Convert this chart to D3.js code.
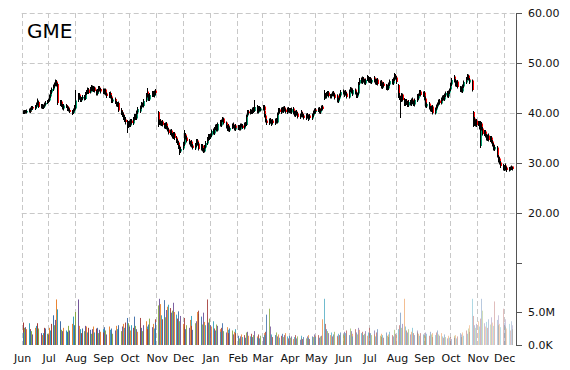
<!DOCTYPE html>
<html><head><meta charset="utf-8">
<script src="https://cdn.jsdelivr.net/npm/d3@7/dist/d3.min.js"></script>
<style>html,body{margin:0;padding:0;background:#fff;}svg{display:block;}</style>
</head><body>
<svg id="chart" width="570" height="370"></svg>
<script>
const title = "GME";
const firstTradingDay = "2014-06-02";
const monthLabels = ["Jun","Jul","Aug","Sep","Oct","Nov","Dec","Jan","Feb","Mar","Apr","May","Jun","Jul","Aug","Sep","Oct","Nov","Dec"];
const priceTicks = [60, 50, 40, 30, 20, 10];
const priceTickLabels = ["60.00","50.00","40.00","30.00","20.00",""];
const volumeTicks = [5, 0];
const volumeTickLabels = ["5.0M","0.0K"];
const barColors = ["#A33A38","#3D6CA8","#86A83F","#6E4F96","#E8822E","#2F9CB8"];

const open = [
40.0,40.3,40.0,40.4,40.1,40.3,40.7,40.3,40.7,41.2,40.8,41.2,41.7,42.2,41.7,41.1,41.6,41.0,41.3,41.7,42.0,
42.2,42.5,43.3,44.1,44.7,45.3,45.7,46.3,45.8,42.1,41.7,42.3,41.5,40.9,41.6,41.3,40.6,41.1,40.6,40.3,40.0,40.5,41.3,
40.9,42.6,43.7,43.1,42.5,42.9,43.3,42.8,43.9,44.1,44.7,44.1,44.7,45.3,44.5,45.1,44.5,43.8,44.4,45.1,44.8,
44.2,44.6,44.0,44.7,43.9,43.3,44.0,43.3,42.9,42.3,42.8,42.1,41.5,42.0,41.3,40.6,40.1,39.7,39.1,38.7,38.3,37.3,
38.1,37.5,38.5,37.9,38.8,39.5,38.9,40.1,40.9,40.3,41.1,41.9,41.4,42.5,43.5,44.3,43.5,42.7,43.5,44.1,43.4,44.3,44.5,
40.2,37.9,38.5,37.7,38.3,37.7,37.1,37.9,37.1,36.7,35.9,36.5,35.7,35.1,35.9,35.1,34.5,34.1,33.3,32.3,
32.9,33.7,34.9,35.7,35.1,34.5,34.1,33.5,34.3,33.5,32.9,33.5,34.5,33.9,33.3,32.7,33.5,32.7,32.3,33.1,33.9,34.7,35.5,
35.1,35.5,36.5,35.9,36.9,37.5,36.5,37.9,38.3,37.5,38.5,38.9,38.1,37.3,36.7,37.5,36.5,37.1,37.7,37.3,36.7,37.5,
37.1,37.3,36.7,37.7,37.5,36.9,37.9,37.6,39.5,40.3,39.9,40.5,40.0,40.9,40.4,41.3,40.7,40.1,41.1,40.5,
40.8,41.3,40.5,39.5,38.5,37.9,38.7,38.3,37.7,38.5,37.9,38.7,38.1,39.9,40.7,40.1,40.9,40.3,41.1,40.7,40.1,40.9,
40.3,40.7,40.1,40.9,40.1,39.5,40.3,39.9,39.1,39.5,40.3,39.9,39.5,38.9,39.7,39.3,38.7,39.5,38.9,39.5,40.1,40.7,
40.3,40.5,40.9,40.1,40.7,41.3,42.8,43.7,43.3,43.7,44.1,43.5,43.3,43.7,44.1,43.7,42.9,43.5,42.3,42.9,43.5,
44.3,44.1,43.5,44.3,43.9,43.1,44.5,44.9,44.1,43.7,44.7,43.9,43.3,43.9,45.9,46.7,46.1,46.9,46.5,45.9,46.7,47.1,
46.3,46.9,46.1,46.5,47.1,46.5,45.9,46.7,45.7,46.3,45.7,45.1,45.9,45.5,44.7,45.5,44.9,45.7,46.5,45.9,46.7,47.5,47.1,
45.6,43.5,42.9,42.5,43.7,42.7,41.7,42.5,42.1,41.5,42.3,41.7,42.7,42.3,41.7,42.5,43.5,42.9,43.7,44.3,43.5,
44.1,42.9,42.3,41.3,41.9,41.1,40.5,41.3,40.5,39.9,40.7,41.3,41.7,42.5,41.9,42.7,43.3,42.7,43.5,44.1,43.3,44.1,
44.7,45.7,46.7,47.3,46.5,45.5,46.3,45.1,44.5,45.1,44.3,45.3,46.1,46.9,47.5,46.7,46.1,46.5,40.2,38.9,37.7,38.5,
37.7,38.1,33.4,37.9,36.9,35.7,36.3,35.5,34.7,35.5,34.5,35.1,34.3,33.7,32.7,33.1,31.3,30.5,30.9,30.1,29.5,
29.1,28.7,29.5,29.1,28.5,29.0,28.7,29.3,29.0
];
const high = [
40.5,40.5,40.6,40.6,40.7,40.9,40.8,41.1,41.4,41.4,41.6,42.1,42.9,42.5,41.9,41.8,41.8,41.7,42.1,42.4,42.6,
42.9,43.7,44.6,45.1,45.7,46.1,46.7,46.6,46.0,42.6,42.6,42.6,41.8,41.8,41.8,41.5,41.3,41.3,40.9,40.6,40.9,41.6,41.5,
44.6,44.0,44.0,43.4,43.2,43.6,43.6,44.2,44.6,45.1,45.0,45.2,45.6,45.5,45.4,45.3,44.7,44.8,45.4,45.4,45.0,
44.9,44.8,44.9,44.9,44.1,44.2,44.3,43.6,43.2,43.0,43.1,42.4,42.2,42.3,41.6,41.0,40.5,40.1,39.6,39.2,38.6,38.4,
38.5,38.8,38.8,39.2,39.8,39.8,40.5,41.2,41.1,41.5,42.2,42.1,42.8,44.0,45.0,44.6,43.8,44.0,44.4,44.4,44.5,44.8,44.8,
40.4,38.7,38.8,38.4,38.6,38.0,38.1,38.2,37.4,37.0,36.7,36.8,36.0,36.2,36.2,35.4,34.8,34.4,33.6,33.2,
34.2,35.2,36.6,36.0,35.4,34.8,34.4,34.6,34.6,33.8,34.0,34.8,34.8,34.2,33.6,33.8,33.8,33.0,33.6,34.4,35.2,35.8,35.8,
35.9,36.7,36.9,37.2,37.7,37.8,38.1,38.6,38.6,38.7,39.2,39.1,38.3,37.6,37.7,37.8,37.3,37.9,38.1,37.6,37.7,37.8,
37.6,37.6,37.9,37.9,37.8,38.1,38.2,39.7,40.6,40.6,40.8,40.7,41.1,41.2,42.6,41.6,40.9,41.4,41.4,41.2,
41.6,41.6,40.8,39.8,38.8,38.9,39.0,38.6,38.7,38.8,38.9,39.0,40.1,41.0,41.0,41.1,41.2,41.3,41.4,40.9,41.1,41.2,
41.0,41.0,41.1,41.2,40.4,40.5,40.6,40.2,39.9,40.5,40.6,40.2,39.8,39.9,40.0,39.6,39.7,39.8,39.9,40.5,40.9,41.0,
40.8,41.1,41.2,40.9,41.5,41.6,44.6,44.0,44.2,44.4,44.4,43.8,43.9,44.3,44.4,44.0,43.7,43.7,43.1,43.9,44.6,
44.7,44.4,44.5,44.6,44.2,44.7,45.2,45.1,44.5,44.9,44.9,44.3,44.1,46.2,47.0,47.1,47.3,47.2,46.8,46.9,47.6,47.4,
47.2,47.2,46.9,47.4,47.4,46.8,46.9,47.0,46.5,46.6,46.0,46.1,46.2,45.8,45.7,45.8,46.1,46.7,46.8,47.1,48.0,47.8,47.4,
45.8,44.0,43.4,44.0,43.9,43.0,42.8,42.8,42.4,42.6,42.6,42.9,43.1,42.5,42.9,43.7,43.8,43.9,44.6,44.6,44.3,
44.4,43.3,42.5,42.1,42.2,41.4,41.5,41.6,40.7,41.1,41.7,42.1,42.7,42.8,43.1,43.5,43.6,43.9,44.3,44.4,44.5,44.9,
46.1,47.0,47.6,47.6,46.8,46.5,46.6,45.4,45.3,45.3,45.7,46.5,47.2,47.8,47.7,47.0,47.0,46.7,40.4,39.2,38.7,38.8,
38.4,38.4,38.4,38.2,37.2,36.6,36.6,35.8,35.7,35.9,35.4,35.4,34.6,34.0,33.6,33.4,31.6,31.2,31.2,30.4,29.8,
29.6,29.9,29.7,29.3,29.2,29.3,29.5,29.3,29.2
];
const low = [
39.8,39.8,39.8,39.9,39.9,40.1,40.0,40.1,40.5,40.6,40.6,41.0,41.5,41.4,41.0,40.9,40.8,40.8,41.1,41.5,41.8,
42.0,42.3,43.0,43.8,44.4,45.0,45.4,45.3,41.6,41.4,41.5,41.2,40.7,40.5,41.0,40.5,40.4,40.3,40.0,39.6,39.8,40.3,40.6,
40.7,42.2,42.7,42.2,42.2,42.6,42.5,42.6,43.6,43.8,43.8,43.9,44.4,44.3,44.2,44.1,43.5,43.5,44.1,44.3,43.9,
43.9,43.8,43.7,43.5,43.0,43.0,42.9,42.5,42.0,42.0,41.8,41.3,41.2,41.0,40.2,39.6,39.2,38.6,38.2,37.7,36.0,37.0,
37.2,37.2,37.7,37.6,38.5,38.6,38.6,39.8,40.1,40.0,40.8,41.2,41.1,42.2,43.2,43.1,42.4,42.4,43.2,43.2,43.1,44.0,43.6,
37.2,37.6,37.5,37.4,37.3,36.9,36.8,36.7,36.3,35.7,35.6,35.3,34.9,34.8,34.6,34.0,33.6,32.8,31.6,32.0,
32.6,33.4,34.6,34.7,34.1,33.7,33.3,33.2,33.1,32.7,32.6,33.2,33.5,32.9,32.5,32.5,32.3,32.0,32.1,32.9,33.6,34.4,34.6,
34.8,35.2,35.7,35.6,36.6,36.3,36.3,37.6,37.3,37.2,38.2,37.7,36.9,36.4,36.4,36.3,36.2,36.8,36.9,36.5,36.4,36.7,
36.6,36.5,36.5,37.1,36.8,36.7,37.2,37.4,39.2,39.7,39.7,39.8,39.8,40.0,40.2,40.3,39.9,39.9,40.3,40.3,
40.5,40.3,39.1,38.1,37.6,37.6,37.9,37.5,37.4,37.7,37.6,37.9,37.9,39.6,39.9,39.8,40.1,40.0,40.3,39.9,39.8,40.1,
40.0,39.9,39.8,39.7,39.3,39.2,39.5,38.9,38.8,39.2,39.5,39.1,38.7,38.6,38.9,38.5,38.4,38.7,38.6,39.2,39.8,39.9,
39.9,40.2,39.9,39.8,40.4,40.5,42.6,42.9,42.9,43.4,43.1,42.9,42.9,43.4,43.3,42.7,42.6,42.1,42.0,42.6,43.2,
43.7,43.4,43.2,43.5,42.9,42.9,44.2,43.9,43.5,43.4,43.7,43.0,43.0,43.6,45.6,45.9,45.8,46.1,45.7,45.6,46.4,46.1,
46.0,45.9,45.8,46.2,46.1,45.7,45.6,45.5,45.4,45.3,44.9,44.8,45.1,44.6,44.5,44.7,44.6,45.4,45.7,45.6,46.4,46.7,45.8,
43.0,42.6,39.0,42.2,42.3,41.4,41.4,41.6,41.2,41.2,41.5,41.4,41.8,41.4,41.3,42.2,42.7,42.6,43.4,43.3,43.2,
42.5,41.9,41.1,41.0,40.7,40.3,40.2,40.1,39.7,39.7,40.5,41.0,41.5,41.7,41.7,42.4,42.5,42.4,43.2,43.1,43.0,43.8,
44.4,45.4,46.4,46.1,45.3,45.2,44.9,44.2,44.2,44.1,44.0,45.0,45.8,46.6,46.5,45.9,45.8,44.3,37.2,37.4,37.3,37.2,
37.4,36.7,33.0,36.5,35.5,35.4,35.1,34.5,34.4,34.3,34.2,33.9,33.3,32.5,32.4,31.1,30.2,30.1,29.7,29.0,28.5,
28.4,28.5,28.7,28.2,28.3,28.5,28.6,28.6,28.5
];
const close = [
40.2,40.0,40.3,40.1,40.4,40.6,40.2,40.8,41.0,40.9,41.3,41.8,42.3,41.6,41.2,41.5,41.0,41.4,41.8,42.0,42.2,
42.6,43.4,44.2,44.8,45.4,45.8,46.2,45.6,42.0,41.8,42.2,41.4,41.0,41.5,41.2,40.7,41.0,40.5,40.2,39.9,40.6,41.2,40.8,
42.5,43.6,43.0,42.6,42.8,43.2,42.9,43.8,44.2,44.6,44.0,44.8,45.2,44.6,45.0,44.4,43.9,44.5,45.0,44.7,44.3,
44.5,44.1,44.6,43.8,43.4,43.9,43.2,42.8,42.4,42.7,42.0,41.6,41.9,41.2,40.5,40.0,39.6,39.0,38.6,38.2,37.4,38.0,
37.6,38.4,38.0,38.9,39.4,39.0,40.2,40.8,40.4,41.2,41.8,41.5,42.4,43.6,44.2,43.4,42.8,43.6,44.0,43.5,44.2,44.4,44.0,
38.0,38.4,37.8,38.2,37.6,37.2,37.8,37.0,36.6,36.0,36.4,35.6,35.2,35.8,35.0,34.4,34.0,33.2,32.4,32.8,
33.8,34.8,35.6,35.0,34.4,34.0,33.6,34.2,33.4,33.0,33.6,34.4,33.8,33.2,32.8,33.4,32.6,32.4,33.2,34.0,34.8,35.4,35.0,
35.6,36.4,36.0,36.8,37.4,36.6,37.8,38.2,37.6,38.4,38.8,38.0,37.2,36.8,37.4,36.6,37.0,37.6,37.2,36.8,37.4,37.0,
37.2,36.8,37.6,37.4,37.0,37.8,37.5,39.4,40.2,40.0,40.4,40.1,40.8,40.3,41.2,40.6,40.2,41.0,40.6,40.9,
41.2,40.6,39.4,38.4,38.0,38.6,38.2,37.8,38.4,38.0,38.6,38.2,39.8,40.6,40.2,40.8,40.4,41.0,40.6,40.2,40.8,40.4,
40.6,40.2,40.8,40.0,39.6,40.2,39.8,39.2,39.6,40.2,39.8,39.4,39.0,39.6,39.2,38.8,39.4,39.0,39.6,40.2,40.6,40.2,
40.4,40.8,40.2,40.6,41.2,40.8,43.6,43.2,43.8,44.0,43.4,43.2,43.6,44.0,43.6,43.0,43.4,42.4,42.8,43.6,44.2,
44.0,43.6,44.2,43.8,43.2,44.4,44.8,44.2,43.8,44.6,44.0,43.4,43.8,45.8,46.6,46.2,46.8,46.4,46.0,46.6,47.0,46.4,
46.8,46.2,46.6,47.0,46.4,46.0,46.6,45.8,46.2,45.6,45.2,45.8,45.4,44.8,45.4,45.0,45.8,46.4,46.0,46.8,47.4,47.0,46.2,
43.4,43.0,42.6,43.6,42.6,41.8,42.4,42.0,41.6,42.2,41.8,42.6,42.2,41.8,42.6,43.4,43.0,43.6,44.2,43.6,44.0,
42.8,42.2,41.4,41.8,41.0,40.6,41.2,40.4,40.0,40.8,41.4,41.8,42.4,42.0,42.8,43.2,42.8,43.6,44.0,43.4,44.2,44.6,
45.8,46.6,47.2,46.4,45.6,46.2,45.2,44.6,45.0,44.4,45.4,46.2,46.8,47.4,46.8,46.2,46.6,44.6,39.0,37.8,38.4,37.6,
38.0,37.0,37.8,36.8,35.8,36.2,35.4,34.8,35.4,34.6,35.0,34.2,33.6,32.8,33.2,31.4,30.6,30.8,30.0,29.4,29.0,
28.8,29.4,29.0,28.6,28.9,28.8,29.2,28.9,28.8
];
const volumeM = [
3.4,1.9,2.6,2.7,2.4,3.3,2.4,2.2,2.1,1.6,2.6,2.9,3.3,2.3,2.5,1.8,1.5,1.8,2.6,2.5,1.7,
1.6,2.6,2.2,3.2,4.5,3.0,3.8,6.9,5.4,3.1,3.6,2.3,2.1,2.6,2.2,1.8,2.0,2.9,2.2,3.2,4.3,2.4,3.0,
5.0,6.9,2.9,2.4,1.8,2.5,2.1,2.9,2.8,1.9,2.6,2.3,1.7,2.4,2.8,1.9,2.5,2.6,1.8,2.3,2.0,
2.4,1.9,2.7,2.2,1.6,2.8,2.3,1.9,2.5,1.7,2.2,2.9,2.4,2.6,3.0,2.1,2.8,3.2,2.6,3.4,4.1,3.3,
2.8,2.2,3.0,2.6,4.3,2.9,2.4,2.0,3.3,4.1,2.6,2.1,3.0,3.6,2.8,2.4,3.1,4.0,2.7,3.2,2.5,3.9,3.4,
6.0,7.0,6.2,4.5,3.9,6.8,4.2,5.3,5.8,6.1,5.6,4.9,5.2,6.4,5.0,4.6,4.0,5.1,3.6,4.4,
3.2,2.7,4.1,2.4,3.0,2.6,3.8,4.4,2.9,2.3,3.3,3.6,5.0,4.7,5.2,4.3,3.1,4.9,3.5,3.0,6.9,3.4,4.0,
3.0,2.8,3.6,2.5,2.2,3.1,2.9,2.4,2.0,2.6,3.3,2.1,1.9,2.7,2.3,1.8,2.5,2.2,1.6,2.0,2.4,1.8,
1.4,1.0,1.3,1.6,1.2,1.5,1.1,1.9,2.0,1.4,1.3,1.7,1.2,1.5,2.1,1.3,1.1,1.6,1.0,1.4,
1.2,1.8,1.5,2.0,4.6,5.5,2.8,1.4,1.6,1.2,1.5,1.9,1.3,1.6,1.1,1.4,1.7,1.2,1.5,1.8,1.3,1.0,
1.4,1.1,1.3,0.9,1.2,1.5,1.0,1.3,0.8,1.1,1.4,0.9,1.2,1.0,1.3,1.5,1.1,0.9,1.3,1.2,1.6,1.4,
1.2,1.5,1.1,1.3,1.4,3.9,7.0,3.2,2.4,2.1,1.8,1.5,1.9,1.3,1.6,2.0,1.4,1.2,1.7,1.5,1.9,
1.6,2.0,1.4,1.8,2.2,1.5,2.5,2.1,1.7,1.3,2.4,1.9,1.6,2.6,2.3,1.8,2.0,1.5,1.7,2.1,1.4,1.9,
2.6,1.8,1.5,2.2,1.6,1.3,1.9,2.4,1.4,1.2,1.7,1.5,1.1,1.9,1.4,1.2,1.6,2.0,1.5,1.3,2.3,1.7,1.5,
2.4,3.0,4.9,2.6,3.2,7.0,2.8,2.2,1.9,2.4,1.6,2.0,2.6,1.8,1.5,1.9,2.2,1.7,1.4,1.8,1.6,
1.5,1.9,1.3,1.7,1.4,2.0,1.6,1.2,1.8,1.5,1.9,2.2,1.6,1.4,1.8,1.3,1.1,1.6,1.2,1.0,1.4,1.1,
1.2,0.9,1.4,1.1,1.5,1.0,1.3,1.8,1.2,1.6,1.9,1.4,2.2,1.7,2.5,2.0,3.0,7.0,4.4,3.0,2.6,3.2,
3.6,2.8,4.0,7.0,5.2,3.3,2.8,3.5,2.6,3.9,3.1,4.2,3.4,2.9,6.6,3.8,3.0,4.5,3.2,2.7,5.5,
3.4,2.8,3.9,2.5,3.2,2.2,3.6,2.4,3.0
];

// trading days (weekdays) starting at firstTradingDay
const dates = [];
{
  const d = d3.timeParse("%Y-%m-%d")(firstTradingDay);
  while (dates.length < close.length) {
    const wd = d.getDay();
    if (wd !== 0 && wd !== 6) dates.push(new Date(d));
    d.setDate(d.getDate() + 1);
  }
}

const svg = d3.select("#chart");
const FONT = "DejaVu Sans, Verdana, sans-serif";
const axisX = 516, baseY = 345, topY = 13;

const x = d3.scaleTime().domain([new Date(2014,5,1), new Date(2015,11,15)]).range([21.7, axisX]);
const y = d3.scaleLinear().domain([10, 60]).range([263, 13]);
const v = d3.scaleLinear().domain([0, 5]).range([baseY, 312]);
const fade = d3.scaleLinear().domain([0, close.length * 0.45, close.length - 1]).range([1, 0.85, 0.3]);

const months = d3.timeMonth.range(new Date(2014,5,1), new Date(2015,11,2));

// gridlines
const grid = svg.append("g").attr("stroke", "#c8c8c8").attr("stroke-width", 1).attr("stroke-dasharray", "5,3");
grid.selectAll("line.v").data(months).join("line").attr("class","v")
  .attr("x1", d => Math.round(x(d)) + 0.5).attr("x2", d => Math.round(x(d)) + 0.5)
  .attr("y1", topY).attr("y2", baseY);
grid.selectAll("line.h").data(priceTicks.filter(t => t >= 20)).join("line").attr("class","h")
  .attr("x1", x(months[0])).attr("x2", axisX)
  .attr("y1", d => Math.round(y(d)) + 0.5).attr("y2", d => Math.round(y(d)) + 0.5);

// volume bars
svg.append("g").selectAll("rect").data(volumeM).join("rect")
  .attr("x", (d, i) => Math.round(x(dates[i])))
  .attr("width", 1)
  .attr("y", d => v(d))
  .attr("height", d => baseY - v(d))
  .attr("fill", (d, i) => barColors[i % barColors.length])
  .attr("fill-opacity", (d, i) => fade(i));

// candles
const cg = svg.append("g");
close.forEach((c, i) => {
  const o = open[i];
  const cx = Math.round(x(dates[i]));
  const y0 = y(Math.max(o, c)), y1 = y(Math.min(o, c));
  cg.append("rect").attr("x", cx).attr("width", 2)
    .attr("y", y0).attr("height", Math.max(1, y1 - y0))
    .attr("fill", c >= o ? "#00a070" : "#ff0000");
  cg.append("line").attr("x1", cx + 0.5).attr("x2", cx + 0.5)
    .attr("y1", y(high[i])).attr("y2", y(low[i]))
    .attr("stroke", "#000").attr("stroke-width", 1);
});

// right axis
const ax = svg.append("g");
ax.append("line").attr("x1", axisX + 0.5).attr("x2", axisX + 0.5).attr("y1", topY).attr("y2", baseY)
  .attr("stroke", "#555");
priceTicks.forEach((t, i) => {
  const ty = Math.round(y(t)) + 0.5;
  ax.append("line").attr("x1", axisX).attr("x2", axisX + 6).attr("y1", ty).attr("y2", ty).attr("stroke", "#555");
  ax.append("text").attr("x", 528).attr("y", ty).attr("dy", "0.36em")
    .attr("font-family", FONT).attr("font-size", 11).attr("fill", "#111").text(priceTickLabels[i]);
});
volumeTicks.forEach((t, i) => {
  const ty = Math.round(v(t)) + 0.5;
  ax.append("line").attr("x1", axisX).attr("x2", axisX + 6).attr("y1", ty).attr("y2", ty).attr("stroke", "#555");
  ax.append("text").attr("x", 528).attr("y", ty).attr("dy", "0.36em")
    .attr("font-family", FONT).attr("font-size", 11).attr("fill", "#111").text(volumeTickLabels[i]);
});

// month labels
svg.append("g").selectAll("text").data(months).join("text")
  .attr("x", d => x(d) + 1).attr("y", 361.5).attr("text-anchor", "middle")
  .attr("font-family", FONT).attr("font-size", 11).attr("fill", "#111")
  .text((d, i) => monthLabels[i]);

// title
svg.append("text").attr("x", 27).attr("y", 37.5)
  .attr("font-family", FONT).attr("font-size", 20).attr("fill", "#000").text(title);
</script>
</body></html>
